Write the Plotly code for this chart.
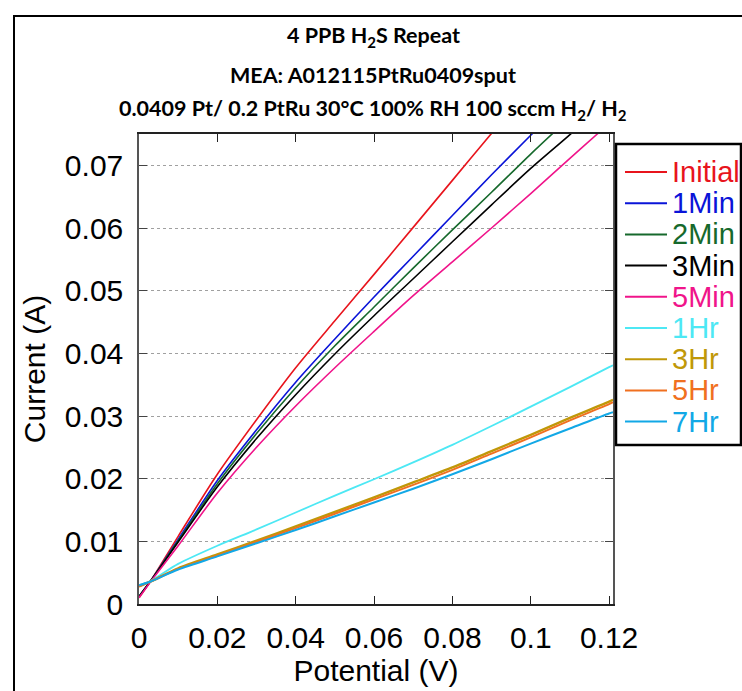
import plotly.graph_objects as go

# Polarisation curves: potential (V) vs current (A) after H2S exposure
potential_initial = [0, 0.003, 0.01, 0.02, 0.03, 0.04, 0.05, 0.06, 0.07, 0.08, 0.09, 0.092]
current_initial = [0.0010, 0.0037, 0.0108, 0.0207, 0.0294, 0.0377, 0.0452, 0.0526, 0.0601, 0.0676, 0.0751, 0.0766]

potential_1min = [0, 0.003, 0.01, 0.02, 0.03, 0.04, 0.05, 0.06, 0.07, 0.08, 0.09, 0.10, 0.102]
current_1min = [0.0012, 0.0037, 0.0103, 0.0197, 0.0278, 0.0354, 0.0423, 0.0490, 0.0555, 0.0620, 0.0685, 0.0748, 0.0761]

potential_2min = [0, 0.003, 0.01, 0.02, 0.03, 0.04, 0.05, 0.06, 0.07, 0.08, 0.09, 0.10, 0.107]
current_2min = [0.0012, 0.0037, 0.0101, 0.0192, 0.0272, 0.0345, 0.0412, 0.0474, 0.0536, 0.0597, 0.0657, 0.0718, 0.0759]

potential_3min = [0, 0.003, 0.01, 0.02, 0.03, 0.04, 0.05, 0.06, 0.07, 0.08, 0.09, 0.10, 0.11, 0.112]
current_3min = [0.0012, 0.0037, 0.0099, 0.0187, 0.0264, 0.0334, 0.0399, 0.0460, 0.0519, 0.0578, 0.0637, 0.0695, 0.0749, 0.0761]

potential_5min = [0, 0.003, 0.01, 0.02, 0.03, 0.04, 0.05, 0.06, 0.07, 0.08, 0.09, 0.10, 0.11, 0.117, 0.12]
current_5min = [0.0010, 0.0036, 0.0093, 0.0177, 0.0250, 0.0316, 0.0377, 0.0435, 0.0492, 0.0546, 0.0600, 0.0655, 0.0711, 0.0750, 0.0766]

potential_hr = [0, 0.003, 0.01, 0.02, 0.03, 0.04, 0.05, 0.06, 0.07, 0.08, 0.09, 0.10, 0.11, 0.12, 0.121]
current_1hr = [0.0030, 0.0037, 0.0064, 0.0093, 0.0119, 0.0146, 0.0173, 0.0199, 0.0226, 0.0254, 0.0284, 0.0315, 0.0346, 0.0378, 0.0381]
current_3hr = [0.0028, 0.0036, 0.0057, 0.0079, 0.0101, 0.0124, 0.0147, 0.0170, 0.0194, 0.0218, 0.0244, 0.0270, 0.0297, 0.0323, 0.0326]
current_5hr = [0.0028, 0.0036, 0.0056, 0.0077, 0.0099, 0.0121, 0.0144, 0.0167, 0.0190, 0.0214, 0.0240, 0.0266, 0.0293, 0.0319, 0.0322]
current_7hr = [0.0030, 0.0036, 0.0055, 0.0076, 0.0097, 0.0118, 0.0140, 0.0162, 0.0184, 0.0207, 0.0231, 0.0256, 0.0280, 0.0304, 0.0306]

series_names = ["Initial", "1Min", "2Min", "3Min", "5Min", "1Hr", "3Hr", "5Hr", "7Hr"]
series_x = [potential_initial, potential_1min, potential_2min, potential_3min, potential_5min,
            potential_hr, potential_hr, potential_hr, potential_hr]
series_y = [current_initial, current_1min, current_2min, current_3min, current_5min,
            current_1hr, current_3hr, current_5hr, current_7hr]
series_colors = ["#e8141c", "#0a14d8", "#16692c", "#000000", "#f0148a",
                 "#4de8f4", "#c09808", "#f07020", "#12a8e6"]
series_widths = [1.6, 1.6, 1.6, 1.6, 1.6, 1.8, 2.4, 2.0, 2.0]

x_ticks = [0, 0.02, 0.04, 0.06, 0.08, 0.1, 0.12]
x_tick_text = ["0", "0.02", "0.04", "0.06", "0.08", "0.1", "0.12"]
y_ticks = [0, 0.01, 0.02, 0.03, 0.04, 0.05, 0.06, 0.07]
y_tick_text = ["0", "0.01", "0.02", "0.03", "0.04", "0.05", "0.06", "0.07"]

fig = go.Figure()
for name, xs, ys, color, width in zip(series_names, series_x, series_y, series_colors, series_widths):
    fig.add_trace(go.Scatter(
        x=xs, y=ys, mode="lines", name=name, showlegend=False,
        line=dict(color=color, width=width, shape="spline", smoothing=0.8),
    ))

W, H = 742, 691
L, R, T, B = 139, 129, 134, 87
pw, ph = W - L - R, H - T - B


def px_x(p):
    return (p - L) / pw


def px_y(p):
    return (H - B - p) / ph


axis_font = dict(family="Arial, Liberation Sans", size=30, color="black")
title_font = dict(family="Lato, Open Sans", size=21.5, color="black")

fig.update_layout(
    width=W, height=H,
    margin=dict(l=L, r=R, t=T, b=B),
    paper_bgcolor="white", plot_bgcolor="white",
    showlegend=False,
    xaxis=dict(
        range=[0, 0.121], tickvals=x_ticks, ticktext=x_tick_text,
        ticks="inside", ticklen=8, tickcolor="#222", tickwidth=1,
        showline=True, linecolor="#222", linewidth=1.5, mirror="ticks",
        showgrid=False, zeroline=False,
        tickfont=axis_font, ticklabelstandoff=6,
        title=dict(text="Potential (V)", font=axis_font, standoff=4),
    ),
    yaxis=dict(
        range=[0, 0.075], tickvals=y_ticks, ticktext=y_tick_text,
        ticks="inside", ticklen=8, tickcolor="#444", tickwidth=1,
        showline=True, linecolor="#555", linewidth=1.5, mirror="ticks",
        showgrid=True, gridcolor="#a0a0a0", griddash="dot", gridwidth=1,
        zeroline=False,
        tickfont=axis_font, ticklabelstandoff=8,
        title=dict(text="Current (A)", font=axis_font, standoff=10),
    ),
)

# Title block
title_lines = [
    ("<b>4 PPB H<sub>2</sub>S Repeat</b>", 36),
    ("<b>MEA: A012115PtRu0409sput</b>", 75),
    ("<b>0.0409 Pt/ 0.2 PtRu 30°C 100% RH 100 sccm H<sub>2</sub>/ H<sub>2</sub></b>", 109),
]
for text, ypx in title_lines:
    fig.add_annotation(text=text, xref="paper", yref="paper",
                       x=px_x(373), y=px_y(ypx), showarrow=False, font=title_font,
                       xanchor="center", yanchor="middle")

# Legend box with one line sample and coloured label per series
fig.add_shape(type="rect", xref="paper", yref="paper",
              x0=px_x(616), x1=px_x(741), y0=px_y(445), y1=px_y(144),
              line=dict(color="black", width=2.5), fillcolor="white")
for i, (name, color) in enumerate(zip(series_names, series_colors)):
    ypx = 172 + 31.2 * i
    fig.add_shape(type="line", xref="paper", yref="paper",
                  x0=px_x(625), x1=px_x(667), y0=px_y(ypx), y1=px_y(ypx),
                  line=dict(color=color, width=2))
    fig.add_annotation(text=name, xref="paper", yref="paper",
                       x=px_x(670), y=px_y(ypx), showarrow=False,
                       xanchor="left", yanchor="middle",
                       font=dict(family="Arial, Liberation Sans", size=29, color=color))

# Outer frame around the whole chart
fig.add_shape(type="rect", xref="paper", yref="paper",
              x0=px_x(14), x1=px_x(760), y0=px_y(710), y1=px_y(16),
              line=dict(color="black", width=2), fillcolor="rgba(0,0,0,0)", layer="below")

fig.write_html("out.html")
